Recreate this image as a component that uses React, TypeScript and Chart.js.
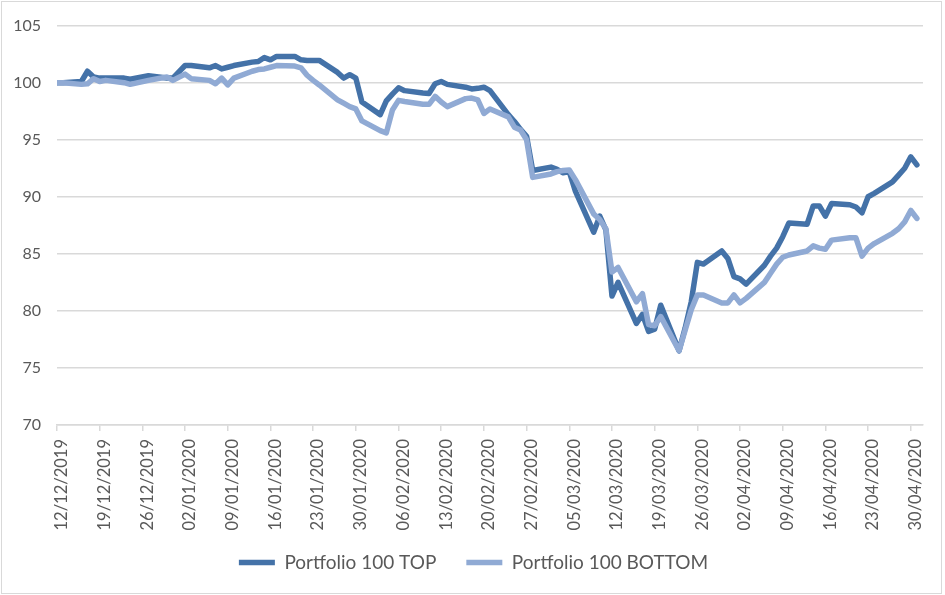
import { useEffect, useRef } from "react"
import { Chart, registerables } from "chart.js"
import type { Plugin } from "chart.js"

Chart.register(...registerables)

// trading days shown on the chart
const dates = [
  "2019-12-12", "2019-12-13", "2019-12-16", "2019-12-17", "2019-12-18", "2019-12-19", "2019-12-20", "2019-12-23", "2019-12-24", "2019-12-27", "2019-12-30", "2019-12-31",
  "2020-01-02", "2020-01-03", "2020-01-06", "2020-01-07", "2020-01-08", "2020-01-09", "2020-01-10", "2020-01-13", "2020-01-14", "2020-01-15", "2020-01-16", "2020-01-17", "2020-01-20", "2020-01-21", "2020-01-22", "2020-01-23", "2020-01-24", "2020-01-27", "2020-01-28", "2020-01-29", "2020-01-30", "2020-01-31",
  "2020-02-03", "2020-02-04", "2020-02-05", "2020-02-06", "2020-02-07", "2020-02-10", "2020-02-11", "2020-02-12", "2020-02-13", "2020-02-14", "2020-02-17", "2020-02-18", "2020-02-19", "2020-02-20", "2020-02-21", "2020-02-24", "2020-02-25", "2020-02-26", "2020-02-27", "2020-02-28",
  "2020-03-02", "2020-03-03", "2020-03-04", "2020-03-05", "2020-03-06", "2020-03-09", "2020-03-10", "2020-03-11", "2020-03-12", "2020-03-13", "2020-03-16", "2020-03-17", "2020-03-18", "2020-03-19", "2020-03-20", "2020-03-23", "2020-03-24", "2020-03-25", "2020-03-26", "2020-03-27", "2020-03-30", "2020-03-31",
  "2020-04-01", "2020-04-02", "2020-04-03", "2020-04-06", "2020-04-07", "2020-04-08", "2020-04-09", "2020-04-10", "2020-04-13", "2020-04-14", "2020-04-15", "2020-04-16", "2020-04-17", "2020-04-20", "2020-04-21", "2020-04-22", "2020-04-23", "2020-04-24", "2020-04-27", "2020-04-28", "2020-04-29", "2020-04-30", "2020-05-01",
]

const topValues = [
  100.0, 100.0, 100.1, 101.0, 100.5, 100.4, 100.4, 100.4, 100.3, 100.6, 100.4, 100.4,
  101.5, 101.5, 101.3, 101.5, 101.2, 101.35, 101.5, 101.8, 101.85, 102.2, 102.0, 102.3, 102.3, 102.0, 101.95, 101.95, 101.95, 100.9, 100.4, 100.7, 100.4, 98.3,
  97.2, 98.4, 99.0, 99.55, 99.3, 99.1, 99.05, 99.9, 100.1, 99.85, 99.6, 99.45, 99.5, 99.6, 99.3, 97.2, 96.6, 95.9, 95.3, 92.3,
  92.6, 92.4, 92.1, 92.2, 90.5, 86.9, 88.3, 87.1, 81.3, 82.5, 78.9, 79.7, 78.2, 78.4, 80.5, 76.5, 78.5, 80.8, 84.25, 84.1, 85.25, 84.6,
  83.0, 82.8, 82.35, 84.0, 84.8, 85.5, 86.5, 87.7, 87.6, 89.2, 89.2, 88.3, 89.4, 89.3, 89.1, 88.6, 90.0, 90.3, 91.3, 91.9, 92.5, 93.5, 92.8,
]

const bottomValues = [
  100.0, 100.0, 99.85, 99.9, 100.35, 100.1, 100.2, 100.0, 99.85, 100.2, 100.5, 100.2,
  100.75, 100.35, 100.2, 99.9, 100.4, 99.8, 100.4, 101.0, 101.15, 101.2, 101.35, 101.5, 101.45, 101.3, 100.65, 100.2, 99.8, 98.5, 98.2, 97.9, 97.7, 96.65,
  95.8, 95.6, 97.6, 98.45, 98.35, 98.1, 98.1, 98.8, 98.3, 97.9, 98.6, 98.65, 98.5, 97.3, 97.7, 97.0, 96.1, 95.85, 95.0, 91.7,
  92.0, 92.2, 92.3, 92.35, 91.5, 88.5, 88.0, 87.2, 83.4, 83.8, 80.8, 81.5, 78.8, 78.7, 79.5, 76.5, 78.3, 80.1, 81.4, 81.4, 80.7, 80.7,
  81.4, 80.7, 81.1, 82.5, 83.3, 84.1, 84.7, 84.9, 85.25, 85.7, 85.5, 85.4, 86.2, 86.4, 86.4, 84.8, 85.5, 85.9, 86.8, 87.2, 87.8, 88.8, 88.1,
]

const seriesNames = ["Portfolio 100 TOP", "Portfolio 100 BOTTOM"]

const DAY = 86400000
const startTime = Date.UTC(2019, 11, 12)
const dayIndex = (iso: string) => Math.round((Date.parse(iso + "T00:00:00Z") - startTime) / DAY)

const formatDay = (v: number) => {
  const d = new Date(startTime + v * DAY)
  const dd = String(d.getUTCDate()).padStart(2, "0")
  const mm = String(d.getUTCMonth() + 1).padStart(2, "0")
  return `${dd}/${mm}/${d.getUTCFullYear()}`
}

const textColor = "#595959"
const gridColor = "#d9d9d9"
const fontFamily = "Lato, 'Open Sans', sans-serif"

// nudge the legend a bit to sit where Excel puts it
const legendNudge: Plugin<"line"> = {
  id: "legendNudge",
  afterLayout(chart) {
    const lg = chart.legend
    if (!lg) return
    lg.left += 12
    lg.right += 12
    lg.top -= 7
    lg.bottom -= 7
  },
}

export default function App() {
  const chartRef = useRef<HTMLCanvasElement>(null)
  const chartInstance = useRef<Chart | null>(null)

  useEffect(() => {
    if (!chartRef.current) return
    if (chartInstance.current) chartInstance.current.destroy()

    const xs = dates.map(dayIndex)

    chartInstance.current = new Chart(chartRef.current, {
      type: "line",
      data: {
        datasets: [
          {
            label: seriesNames[0],
            data: xs.map((x, i) => ({ x, y: topValues[i] })),
            borderColor: "#4472a8",
            backgroundColor: "#4472a8",
            borderWidth: 5.5,
            borderCapStyle: "round",
            borderJoinStyle: "round",
            pointRadius: 0,
            tension: 0,
            order: 1,
          },
          {
            label: seriesNames[1],
            data: xs.map((x, i) => ({ x, y: bottomValues[i] })),
            borderColor: "#90aad4",
            backgroundColor: "#90aad4",
            borderWidth: 5.5,
            borderCapStyle: "round",
            borderJoinStyle: "round",
            pointRadius: 0,
            tension: 0,
            order: 0,
          },
        ],
      },
      options: {
        animation: false,
        responsive: true,
        maintainAspectRatio: false,
        layout: { padding: { top: 24, right: 22, bottom: 6, left: 0 } },
        scales: {
          x: {
            type: "linear",
            min: 0,
            max: 142,
            border: { display: true, color: gridColor, width: 1.5 },
            grid: { drawOnChartArea: false, drawTicks: true, tickLength: 6, color: gridColor, lineWidth: 1.5 },
            ticks: {
              stepSize: 7,
              includeBounds: false,
              autoSkip: false,
              minRotation: 90,
              maxRotation: 90,
              padding: 8,
              labelOffset: 5,
              color: textColor,
              font: { family: fontFamily, size: 16.5 },
              callback: (v) => formatDay(Number(v)),
            },
            afterFit: (scale) => {
              scale.height = 105
            },
          },
          y: {
            min: 70,
            max: 105,
            border: { display: false },
            grid: { color: gridColor, lineWidth: 1.5, drawTicks: false },
            ticks: {
              stepSize: 5,
              padding: 16,
              color: textColor,
              font: { family: fontFamily, size: 16 },
            },
            afterFit: (scale) => {
              scale.width = 57
            },
          },
        },
        plugins: {
          legend: {
            position: "bottom",
            labels: {
              usePointStyle: true,
              pointStyle: "line",
              pointStyleWidth: 36,
              padding: 30,
              color: textColor,
              font: { family: fontFamily, size: 19 },
              sort: (a, b) => (a.datasetIndex ?? 0) - (b.datasetIndex ?? 0),
            },
          },
          tooltip: { enabled: false },
        },
      },
      plugins: [legendNudge],
    })

    return () => {
      if (chartInstance.current) {
        chartInstance.current.destroy()
        chartInstance.current = null
      }
    }
  }, [])

  return (
    <div style={{ position: "absolute", left: 0, top: 0, width: 945, height: 595, background: "#fff" }}>
      <div
        style={{
          position: "absolute",
          left: 1,
          top: 1,
          width: 941,
          height: 593,
          border: `1px solid ${gridColor}`,
          boxSizing: "border-box",
        }}
      />
      <div style={{ position: "absolute", left: 0, top: 0, width: 945, height: 595 }}>
        <canvas ref={chartRef} />
      </div>
    </div>
  )
}
